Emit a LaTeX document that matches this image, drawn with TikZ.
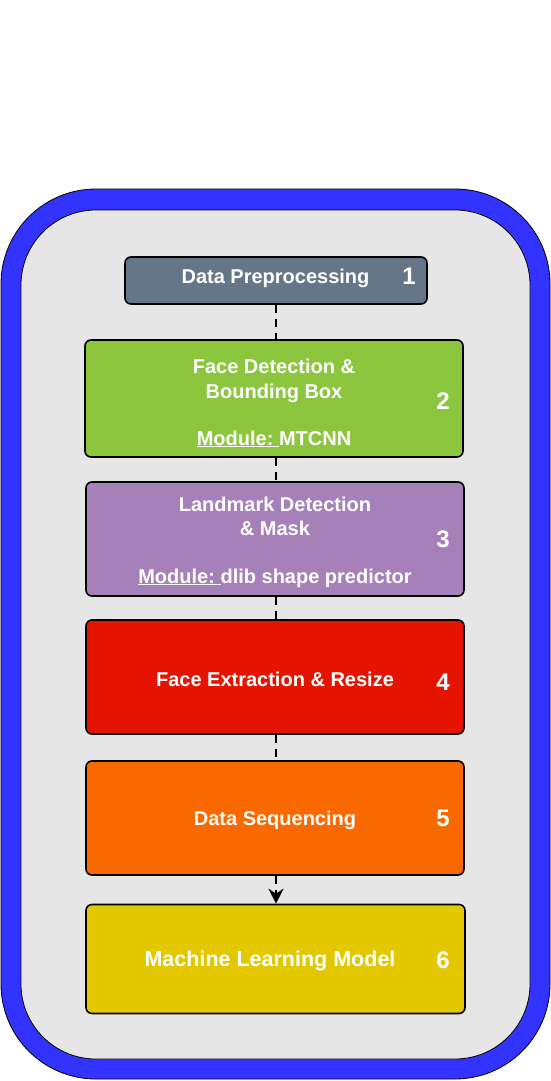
\documentclass[tikz,border=0pt]{standalone}
\usepackage{fontspec}
\setmainfont{Liberation Sans}
\usetikzlibrary{arrows.meta}
\definecolor{cblue}{HTML}{3333FF}
\definecolor{cgray}{HTML}{E6E6E6}
\definecolor{cslate}{HTML}{647687}
\definecolor{cgreen}{HTML}{8CC63F}
\definecolor{cpurple}{HTML}{A680B8}
\definecolor{cred}{HTML}{E51400}
\definecolor{corange}{HTML}{FA6800}
\definecolor{cyellow}{HTML}{E3C800}
\newcommand\modlbl{\underline{Module:\ }}
\begin{document}
\begin{tikzpicture}[x=1pt,y=-1pt,
  stage/.style={draw=black, line width=1.6pt, rounded corners=6pt, inner sep=0pt, minimum width=378pt, minimum height=114pt},
  lbl/.style={text=white, font=\fontsize{20}{24}\selectfont\bfseries, anchor=base, inner sep=0pt},
  num/.style={text=white, font=\fontsize{24}{28}\selectfont\bfseries, anchor=base, inner sep=0pt},
  link/.style={line width=2pt, dash pattern=on 8pt off 6pt}]
\useasboundingbox (0,0) rectangle (551,1081);
\draw[fill=cblue, draw=black, line width=0.8pt, rounded corners=95pt] (1,189) rectangle (550,1079);
\draw[fill=cgray, draw=black, line width=0.8pt, rounded corners=75pt] (21,210) rectangle (530,1059);

\node[stage, fill=cslate, minimum width=302pt, minimum height=47pt] (b1) at (276,280.5) {};
\node[stage, fill=cgreen, minimum height=117pt] (b2) at (274,398.5) {};
\node[stage, fill=cpurple] (b3) at (275,539) {};
\node[stage, fill=cred] (b4) at (275,677) {};
\node[stage, fill=corange] (b5) at (275,818) {};
\node[stage, fill=cyellow, minimum width=379pt, minimum height=109pt] (b6) at (275.5,959) {};

\node[lbl] (t1) at (275.5,283) {Data Preprocessing};
\node[num] (n1) at (409,284.6) {1};

\node[lbl] (t2a) at (274,373) {Face Detection \&};
\node[lbl] (t2b) at (274,398) {Bounding Box};
\node[lbl] (t2c) at (274,445) {\modlbl MTCNN};
\node[num] (n2) at (443,409.6) {2};

\node[lbl] (t3a) at (275,511) {Landmark Detection};
\node[lbl] (t3b) at (275,535) {\& Mask};
\node[lbl] (t3c) at (275,583) {\modlbl dlib shape predictor};
\node[num] (n3) at (443,547.6) {3};

\node[lbl] (t4) at (275,686.7) {Face Extraction \& Resize};
\node[num] (n4) at (443,690.3) {4};

\node[lbl] (t5) at (275,825) {Data Sequencing};
\node[num] (n5) at (443,826.5) {5};

\node[lbl, font=\fontsize{21.5}{26}\selectfont\bfseries] (t6) at (270,966.7) {Machine Learning Model};
\node[num] (n6) at (443,968) {6};

\draw[link] (b1.south) -- (b1.south |- b2.north);
\draw[link] (b1.south |- b2.south) -- (b1.south |- b3.north);
\draw[link] (b1.south |- b3.south) -- (b1.south |- b4.north);
\draw[link] (b1.south |- b4.south) -- (b1.south |- b5.north);
\draw[link, -{Stealth[length=15pt, width=15pt, inset=5pt]}] (b1.south |- b5.south) -- (b1.south |- b6.north);
\end{tikzpicture}
\end{document}
